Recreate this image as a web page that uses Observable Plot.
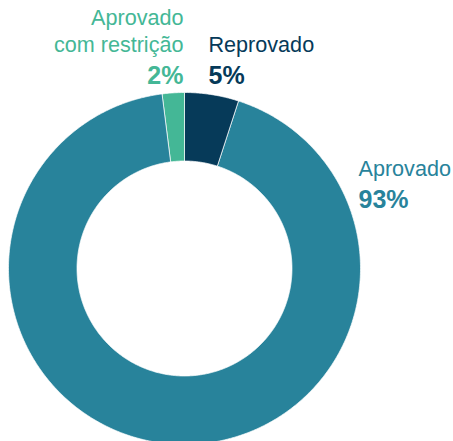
<!DOCTYPE html>
<html>
<head>
<meta charset="utf-8">
<script src="https://cdn.jsdelivr.net/npm/d3@7"></script>
<script src="https://cdn.jsdelivr.net/npm/@observablehq/plot@0.6"></script>
<style>
  html, body { margin: 0; padding: 0; background: #fff; overflow: hidden; }
  #chart { width: 453px; height: 441px; overflow: hidden; }
  svg { display: block; }
</style>
</head>
<body>
<div id="chart"></div>
<script>
// Data, clockwise from 12 o'clock
const categories = ["Reprovado", "Aprovado", "Aprovado com restrição"];
const values = [5, 93, 2];
const nameLabels = ["Reprovado", "Aprovado", "Aprovado\ncom restrição"];
const percentLabels = ["5%", "93%", "2%"];

// Styles
const palette = ["#063a59", "#28839b", "#44b796"];
const innerRatio = 107.5 / 176;

// Build donut slices (unit-circle geometry derived from the values)
const total = d3.sum(values);
let acc = 0;
const slices = categories.map((c, i) => {
  const a0 = (acc / total) * 2 * Math.PI;
  acc += values[i];
  const a1 = (acc / total) * 2 * Math.PI;
  const n = Math.max(2, Math.ceil((a1 - a0) / (Math.PI / 360)));
  const outer = d3.range(n + 1).map(k => {
    const a = a0 + (a1 - a0) * k / n;
    return [Math.sin(a), -Math.cos(a)];
  });
  const inner = d3.range(n + 1).map(k => {
    const a = a1 - (a1 - a0) * k / n;
    return [innerRatio * Math.sin(a), -innerRatio * Math.cos(a)];
  });
  const ring = [...outer, ...inner, outer[0]];
  return {type: "Feature", properties: {category: c}, geometry: {type: "Polygon", coordinates: [ring]}};
});
const outerCircle = {
  type: "Polygon",
  coordinates: [d3.range(0, 361, 2).map(d => [Math.sin(d * Math.PI / 180), -Math.cos(d * Math.PI / 180)])]
};

const font = "'Liberation Sans', Arial, sans-serif";
// label offsets from the donut centre (styling)
const labelOffsets = [
  {dx: 24, dyName: -217, dyPct: -185, anchor: "start"},
  {dx: 174, dyName: -93, dyPct: -61, anchor: "start"},
  {dx: -1, dyName: -217, dyPct: -185, anchor: "end"}
];

const marks = [
  Plot.geo(slices, {fill: d => d.properties.category, stroke: "white", strokeWidth: 0.7})
];
categories.forEach((c, i) => {
  const o = labelOffsets[i];
  marks.push(Plot.text([nameLabels[i]], {
    frameAnchor: "middle", text: d => d, dx: o.dx, dy: o.dyName,
    textAnchor: o.anchor, lineAnchor: "bottom", lineHeight: 1.21,
    fill: palette[i], fontSize: 21.6, fontFamily: font
  }));
  marks.push(Plot.text([percentLabels[i]], {
    frameAnchor: "middle", text: d => d, dx: o.dx, dy: o.dyPct,
    textAnchor: o.anchor, lineAnchor: "bottom",
    fill: palette[i], fontSize: 25, fontWeight: "bold", fontFamily: font
  }));
});

const chart = Plot.plot({
  width: 453,
  height: 444,
  marginLeft: 8,
  marginRight: 93,
  marginTop: 92,
  marginBottom: 0,
  projection: {type: "identity", domain: outerCircle},
  color: {domain: categories, range: palette},
  style: {background: "white", fontFamily: font, overflow: "visible"},
  marks
});
document.getElementById("chart").appendChild(chart);
</script>
</body>
</html>
